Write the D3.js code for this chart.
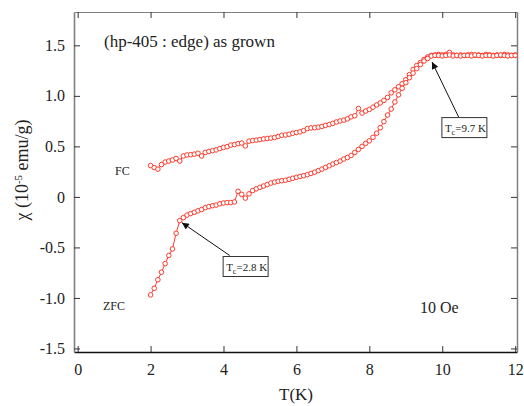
<!DOCTYPE html>
<html>
<head>
<meta charset="utf-8">
<script src="https://cdn.jsdelivr.net/npm/d3@7"></script>
<style>
  body { margin: 0; background: #fff; }
  svg text { fill: #222; }
</style>
</head>
<body>
<div id="chart"></div>
<script>
// FC curve
let fcT = [2.0, 2.1, 2.2, 2.3, 2.4, 2.5, 2.6, 2.7, 2.8, 2.9,
  3.0, 3.1, 3.2, 3.3, 3.4, 3.5, 3.6, 3.7, 3.8, 3.9,
  4.0, 4.1, 4.2, 4.3, 4.4, 4.5, 4.6, 4.7, 4.8, 4.9,
  5.0, 5.1, 5.2, 5.3, 5.4, 5.5, 5.6, 5.7, 5.8, 5.9,
  6.0, 6.1, 6.2, 6.3, 6.4, 6.5, 6.6, 6.7, 6.8, 6.9,
  7.0, 7.1, 7.2, 7.3, 7.4, 7.5, 7.6, 7.7, 7.8, 7.9,
  8.0, 8.1, 8.2, 8.3, 8.4, 8.5, 8.6, 8.7, 8.8, 8.9,
  9.0, 9.1, 9.2, 9.3, 9.4, 9.5, 9.6, 9.7, 9.8, 9.9,
  10.0, 10.1, 10.2, 10.3, 10.4, 10.5, 10.6, 10.7, 10.8, 10.9,
  11.0, 11.1, 11.2, 11.3, 11.4, 11.5, 11.6, 11.7, 11.8, 11.9, 12.0];
let fcChi = [0.31, 0.29, 0.275, 0.32, 0.345, 0.355, 0.365, 0.38, 0.355, 0.405,
  0.415, 0.418, 0.423, 0.432, 0.405, 0.44, 0.45, 0.458, 0.465, 0.478,
  0.49, 0.497, 0.513, 0.518, 0.527, 0.533, 0.505, 0.552, 0.558, 0.562,
  0.568, 0.574, 0.578, 0.582, 0.588, 0.598, 0.61, 0.613, 0.62, 0.63,
  0.637, 0.644, 0.656, 0.676, 0.683, 0.685, 0.69, 0.698, 0.708, 0.716,
  0.728, 0.742, 0.752, 0.76, 0.772, 0.792, 0.803, 0.875, 0.83, 0.85,
  0.866, 0.888, 0.91, 0.93, 0.955, 0.985, 1.03, 1.06, 1.09, 1.12,
  1.16, 1.21, 1.26, 1.30, 1.33, 1.36, 1.385, 1.40, 1.405, 1.41,
  1.405, 1.41, 1.43, 1.405, 1.40, 1.405, 1.40, 1.405, 1.41, 1.40,
  1.405, 1.40, 1.41, 1.405, 1.40, 1.405, 1.40, 1.41, 1.405, 1.40, 1.405];

// ZFC curve
let zfcT = [2.0, 2.1, 2.2, 2.3, 2.4, 2.5, 2.6, 2.7, 2.8, 2.9,
  3.0, 3.1, 3.2, 3.3, 3.4, 3.5, 3.6, 3.7, 3.8, 3.9,
  4.0, 4.1, 4.2, 4.3, 4.4, 4.5, 4.6, 4.7, 4.8, 4.9,
  5.0, 5.1, 5.2, 5.3, 5.4, 5.5, 5.6, 5.7, 5.8, 5.9,
  6.0, 6.1, 6.2, 6.3, 6.4, 6.5, 6.6, 6.7, 6.8, 6.9,
  7.0, 7.1, 7.2, 7.3, 7.4, 7.5, 7.6, 7.7, 7.8, 7.9,
  8.0, 8.1, 8.2, 8.3, 8.4, 8.5, 8.6, 8.7, 8.8, 8.9,
  9.0, 9.1, 9.2, 9.3, 9.4, 9.5, 9.6, 9.7, 9.8, 9.9,
  10.0, 10.1, 10.2, 10.3, 10.4, 10.5, 10.6, 10.7, 10.8, 10.9,
  11.0, 11.1, 11.2, 11.3, 11.4, 11.5, 11.6, 11.7, 11.8, 11.9, 12.0];
let zfcChi = [-0.97, -0.905, -0.82, -0.745, -0.66, -0.58, -0.515, -0.36, -0.235, -0.205,
  -0.18, -0.165, -0.152, -0.138, -0.125, -0.107, -0.096, -0.087, -0.081, -0.068,
  -0.06, -0.057, -0.056, -0.05, 0.055, 0.025, -0.012, 0.03, 0.063, 0.08,
  0.095, 0.108, 0.122, 0.137, 0.147, 0.155, 0.16, 0.165, 0.174, 0.184,
  0.194, 0.202, 0.21, 0.22, 0.232, 0.245, 0.26, 0.275, 0.292, 0.308,
  0.325, 0.34, 0.355, 0.375, 0.39, 0.41, 0.44, 0.47, 0.50, 0.53,
  0.555, 0.59, 0.63, 0.685, 0.745, 0.81, 0.87, 0.94, 1.01, 1.075,
  1.13, 1.18, 1.225, 1.27, 1.31, 1.345, 1.37, 1.395, 1.40, 1.40,
  1.395, 1.40, 1.405, 1.395, 1.40, 1.395, 1.40, 1.40, 1.395, 1.405,
  1.40, 1.395, 1.40, 1.40, 1.395, 1.40, 1.405, 1.40, 1.395, 1.40, 1.40];

let xTicks = [0, 2, 4, 6, 8, 10, 12];
let yTicks = [-1.5, -1.0, -0.5, 0, 0.5, 1.0, 1.5];
let yTickLabels = ["-1.5", "-1.0", "-0.5", "0", "0.5", "1.0", "1.5"];

let width = 524, height = 406;
let margin = {left: 74, right: 7, top: 12, bottom: 54};
let red = "#ff3a2c";
let serif = "'Liberation Serif', 'Times New Roman', Tinos, 'DejaVu Serif', serif";

let svg = d3.select("#chart").append("svg")
  .attr("width", width)
  .attr("height", height)
  .attr("font-family", serif);

let x = d3.scaleLinear().domain([-0.1, 12.05]).range([margin.left, width - margin.right]);
let y = d3.scaleLinear().domain([-1.535, 1.83]).range([height - margin.bottom, margin.top]);

let x0 = margin.left, x1 = width - margin.right;
let y0 = height - margin.bottom, y1 = margin.top;

// axes: ticks pointing inward on all four sides
let gBottom = svg.append("g").attr("transform", "translate(0," + y0 + ")")
  .call(d3.axisBottom(x).tickValues(xTicks).tickSizeInner(-6).tickSizeOuter(0).tickPadding(12));
let gTop = svg.append("g").attr("transform", "translate(0," + y1 + ")")
  .call(d3.axisTop(x).tickValues(xTicks).tickSizeInner(-6).tickSizeOuter(0).tickFormat(""));
let gLeft = svg.append("g").attr("transform", "translate(" + x0 + ",0)")
  .call(d3.axisLeft(y).tickValues(yTicks).tickSizeInner(-6).tickSizeOuter(0).tickPadding(9)
    .tickFormat((d, i) => yTickLabels[i]));
let gRight = svg.append("g").attr("transform", "translate(" + x1 + ",0)")
  .call(d3.axisRight(y).tickValues(yTicks).tickSizeInner(-6).tickSizeOuter(0).tickFormat(""));

[gBottom, gTop, gLeft, gRight].forEach(g => {
  g.attr("font-family", serif).attr("font-size", 16);
  g.selectAll("text").attr("fill", "#222");
  g.selectAll(".tick line").attr("stroke", "#333");
});
gBottom.select(".domain").attr("stroke", "#111").attr("stroke-width", 1.5);
gLeft.select(".domain").attr("stroke", "#808080").attr("stroke-width", 1.6);
gTop.select(".domain").attr("stroke", "#808080");
gRight.select(".domain").attr("stroke", "#808080").attr("stroke-width", 1.5);

// curves
let series = [
  {T: fcT, chi: fcChi},
  {T: zfcT, chi: zfcChi}
];
let line = d3.line().x(d => x(d[0])).y(d => y(d[1]));

series.forEach(s => {
  let pts = s.T.map((t, i) => [t, s.chi[i]]);
  svg.append("path")
    .datum(pts)
    .attr("d", line)
    .attr("fill", "none")
    .attr("stroke", red)
    .attr("stroke-width", 1);
  svg.append("g").selectAll("circle")
    .data(pts)
    .enter()
    .append("circle")
    .attr("cx", d => x(d[0]))
    .attr("cy", d => y(d[1]))
    .attr("r", 2.3)
    .attr("fill", "#fff")
    .attr("stroke", red)
    .attr("stroke-width", 1);
});

// labels
svg.append("text").attr("x", 104).attr("y", 47).attr("font-size", 17)
  .text("(hp-405 : edge) as grown");
svg.append("text").attr("x", 115).attr("y", 175).attr("font-size", 12).text("FC");
svg.append("text").attr("x", 103).attr("y", 310).attr("font-size", 12).text("ZFC");
svg.append("text").attr("x", 420).attr("y", 313).attr("font-size", 16).text("10 Oe");

svg.append("text").attr("x", 296).attr("y", 400).attr("text-anchor", "middle")
  .attr("font-size", 17).text("T(K)");

let yl = svg.append("text")
  .attr("transform", "translate(28,170) rotate(-90)")
  .attr("text-anchor", "middle")
  .attr("font-size", 18);
yl.append("tspan").text("χ (10");
yl.append("tspan").attr("dy", -6).attr("font-size", 11).text("-5");
yl.append("tspan").attr("dy", 6).text(" emu/g)");

// Tc annotations
svg.append("defs").append("marker")
  .attr("id", "head")
  .attr("viewBox", "0 0 10 10")
  .attr("refX", 10).attr("refY", 5)
  .attr("markerWidth", 9).attr("markerHeight", 7)
  .attr("markerUnits", "userSpaceOnUse")
  .attr("orient", "auto")
  .append("path").attr("d", "M0,0 L10,5 L0,10 z").attr("fill", "#111");

let notes = [
  {label: "2.8 K", bx: 3.99, by: -0.59, tipT: 2.86, tipChi: -0.255, tailT: 4.17, tailChi: -0.58},
  {label: "9.7 K", bx: 9.99, by: 0.785, tipT: 9.72, tipChi: 1.335, tailT: 10.45, tailChi: 0.79}
];

notes.forEach(n => {
  svg.append("line")
    .attr("x1", x(n.tailT)).attr("y1", y(n.tailChi))
    .attr("x2", x(n.tipT)).attr("y2", y(n.tipChi))
    .attr("stroke", "#111").attr("stroke-width", 1)
    .attr("marker-end", "url(#head)");
  let bx = x(n.bx), by = y(n.by);
  svg.append("rect")
    .attr("x", bx).attr("y", by)
    .attr("width", 45).attr("height", 20)
    .attr("fill", "#fff").attr("stroke", "#333").attr("stroke-width", 1);
  let t = svg.append("text").attr("x", bx + 3).attr("y", by + 14).attr("font-size", 11);
  t.append("tspan").text("T");
  t.append("tspan").attr("dy", 3).attr("font-size", 8).text("c");
  t.append("tspan").attr("dy", -3).text("=" + n.label);
});
</script>
</body>
</html>
